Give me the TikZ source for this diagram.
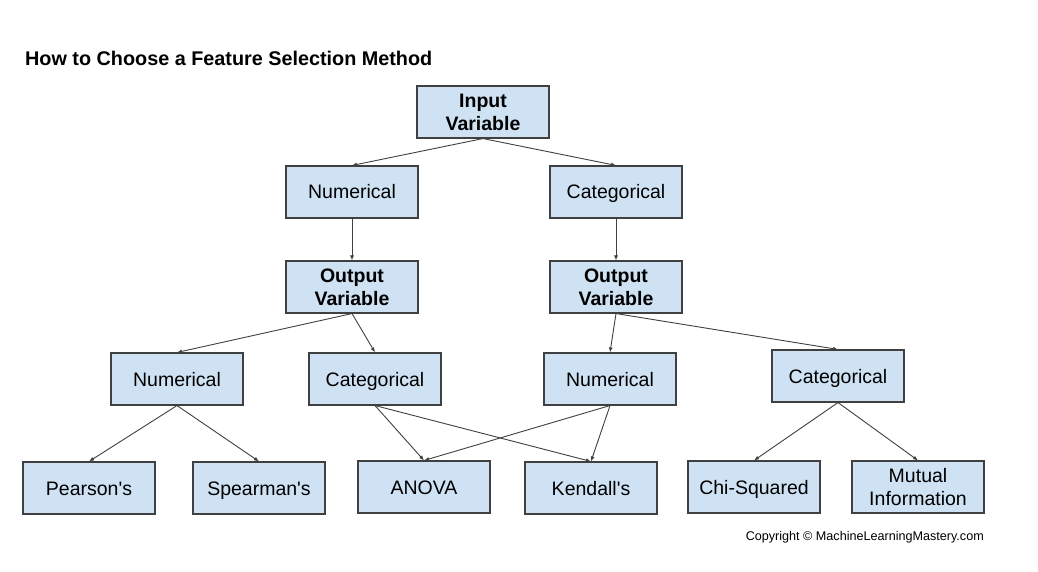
\documentclass[tikz,border=0pt]{standalone}
\usepackage{fontspec}
\setmainfont{Liberation Sans}
\usetikzlibrary{positioning}
\usetikzlibrary{arrows.meta}
\definecolor{boxblue}{HTML}{CFE2F3}
\definecolor{linegray}{HTML}{404040}
\tikzset{
	-{Latex[length=5pt,width=4pt]},
	every node/.style={align=center},
	state/.style={rectangle, draw=linegray, fill=boxblue, line width=1.1pt, minimum width=132pt, minimum height=52pt, inner sep=0pt, font=\fontsize{19.5}{23}\selectfont},
	word/.style={state, text height=14pt, text depth=0pt},
	bold/.style={font=\fontsize{19.5}{23}\selectfont\bfseries},
	el/.style={linegray, line width=0.9pt}
}

\begin{document}
\begin{tikzpicture}[x=1pt, y=-1pt]
	\useasboundingbox[fill=white] (0,0) rectangle (1038,572);
	% Title
	\node[anchor=west, inner sep=0pt, font=\fontsize{19.8}{23}\selectfont\bfseries] (title) at (25,58) {How to Choose a Feature Selection Method};

	\node[state, bold] (1) at (483,112) {Input\\Variable};
	\node[word] (2) at (352,192) {Numerical};
	\node[word] (3) at (616,192) {Categorical};
	\node[state, bold] (4) at (352,287) {Output\\Variable};
	\node[state, bold] (5) at (616,287) {Output\\Variable};

	\node[word] (6) at (177,379) {Numerical};
	\node[word] (7) at (375,379) {Categorical};
	\node[word] (8) at (610,379) {Numerical};
	\node[word] (9) at (838,376) {Categorical};

	\node[word] (10) at (89,488) {Pearson\textquotesingle s};
	\node[word] (11) at (259,488) {Spearman\textquotesingle s};
	\node[word] (12) at (424,487) {ANOVA};
	\node[word] (13) at (591,488) {Kendall\textquotesingle s};
	\node[word] (14) at (754,487) {Chi-Squared};
	\node[state] (15) at (918,487) {Mutual\\Information};

	\node[anchor=east, inner sep=0pt, font=\fontsize{12.6}{15}\selectfont] (copy) at (984,537) {Copyright © MachineLearningMastery.com};

	\path[el] (1.south) edge (2.north) edge (3.north);
	\path[el] (2) edge (4);
	\path[el] (3) edge (5);
	\path[el] (4.south) edge (6.north) edge (7.north);
	\path[el] (5.south) edge (8.north) edge (9.north);
	\path[el] (6.south) edge (10.north) edge (11.north);
	\path[el] (7.south) edge (12.north) edge (13.north);
	\path[el] (8.south) edge (12.north) edge (13.north);
	\path[el] (9.south) edge (14.north) edge (15.north);
\end{tikzpicture}
\end{document}
